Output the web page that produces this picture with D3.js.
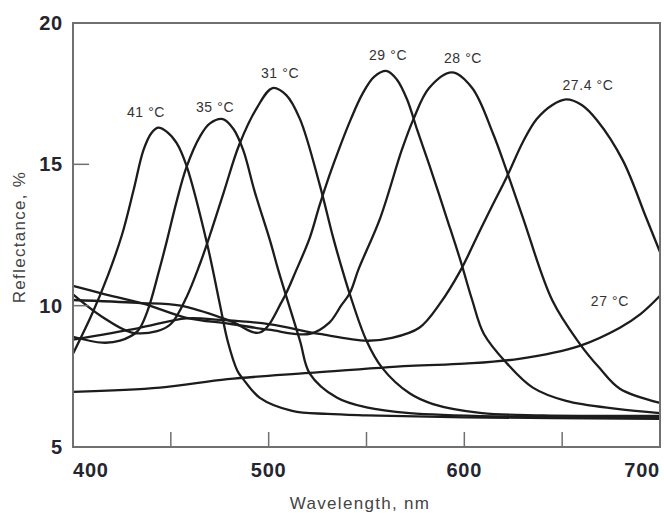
<!DOCTYPE html>
<html>
<head>
<meta charset="utf-8">
<script src="https://cdn.jsdelivr.net/npm/d3@7"></script>
<style>
  body { margin: 0; background: #fff; }
  svg { display: block; font-family: "Liberation Sans", Arial, sans-serif; }
  .curve { fill: none; stroke: #1c1c1c; stroke-width: 2.3; }
  .tick-label { font-size: 20px; font-weight: bold; fill: #25252e; letter-spacing: 0.8px; }
  .curve-label { font-size: 14px; fill: #333; letter-spacing: 0.6px; }
  .axis-title { font-size: 17px; fill: #444; letter-spacing: 1.3px; }
</style>
</head>
<body>
<div id="chart"></div>
<script>
// reflectance spectra, one pair of arrays per temperature
const wl41 = [400, 410, 418, 425, 431, 436, 440, 443.5, 448, 453, 458, 468.5, 475, 479, 484, 487, 495.5, 512, 530, 550, 600, 700];
const r41  = [8.3, 9.75, 11.1, 12.5, 14.1, 15.5, 16.1, 16.3, 16.15, 15.75, 14.95, 12.2, 10.07, 8.76, 7.7, 7.4, 6.74, 6.28, 6.17, 6.12, 6.05, 6.0];

const wl35 = [400, 415, 424, 433, 438, 444, 448, 453, 458, 465, 470, 476.6, 482, 487, 493, 500.7, 505, 516, 521, 535, 550, 572, 620, 700];
const r35  = [8.9, 8.69, 8.76, 9.1, 9.8, 11.24, 12.3, 13.7, 14.9, 16.0, 16.45, 16.6, 16.25, 15.5, 14.0, 12.3, 11.24, 8.76, 7.6, 6.74, 6.4, 6.2, 6.08, 6.05];

const wl31 = [400, 415, 430, 443, 450, 458, 465, 470, 477, 485, 494, 502, 509, 516, 526, 533, 537.5, 541.5, 550, 558, 572, 584, 609, 640, 700];
const r31  = [10.4, 9.6, 9.05, 9.1, 9.35, 10.3, 11.5, 12.5, 14.0, 15.7, 17.0, 17.7, 17.45, 16.6, 14.3, 12.4, 11.3, 10.4, 8.76, 7.8, 6.9, 6.52, 6.2, 6.12, 6.1];

const wl29 = [400, 433, 455, 480, 495.5, 507, 514, 521, 526, 531, 536, 542, 548, 554, 560.5, 565.5, 570.7, 576, 582, 591, 598, 604, 610, 622, 635, 652, 678, 700];
const r29  = [10.2, 10.1, 10.0, 9.47, 9.05, 10.18, 11.24, 12.4, 13.55, 14.6, 15.55, 16.6, 17.5, 18.1, 18.3, 18.0, 17.3, 16.2, 15.0, 13.1, 11.6, 10.2, 9.0, 7.94, 7.1, 6.63, 6.35, 6.2];

const wl28 = [400, 415, 436, 458, 480, 500, 521, 531, 537, 541.5, 546, 557, 568, 574, 582, 593.7, 604, 614.6, 622, 630, 645, 659, 669, 679.5, 700];
const r28  = [10.7, 10.43, 10.07, 9.57, 9.36, 9.15, 9.0, 9.4, 10.0, 10.45, 11.3, 13.1, 15.5, 16.6, 17.7, 18.25, 17.7, 16.1, 14.7, 13.1, 10.18, 8.65, 7.8, 7.06, 6.56];

const wl274 = [400, 433, 458, 475, 500, 526, 550, 563, 577, 587.5, 598, 608, 614, 622, 630, 637, 645, 652, 660, 667.8, 681, 693, 700];
const r274  = [8.8, 9.2, 9.55, 9.5, 9.35, 9.0, 8.76, 8.86, 9.22, 10.07, 11.24, 12.66, 13.5, 14.6, 15.8, 16.6, 17.1, 17.3, 17.1, 16.56, 15.14, 13.1, 11.9];

const wl27 = [400, 444.5, 479, 521, 572, 600, 628, 659, 679.5, 690, 700];
const r27  = [6.95, 7.1, 7.4, 7.62, 7.87, 7.95, 8.12, 8.58, 9.22, 9.7, 10.35];

const labels = ['41 °C', '35 °C', '31 °C', '29 °C', '28 °C', '27.4 °C', '27 °C'];
// where each curve label sits, in data units
const labelWl = [437.3, 472.6, 505.8, 561, 599.3, 663.2, 674.4];
const labelR  = [16.85, 17.03, 18.23, 18.87, 18.76, 17.8, 10.17];

const xTicks = [450, 500, 550, 600, 650];
const xTickLabels = [400, 500, 600, 700];
const yTicks = [10, 15];
const yTickLabels = [5, 10, 15, 20];

const series = [
  [wl41, r41], [wl35, r35], [wl31, r31], [wl29, r29],
  [wl28, r28], [wl274, r274], [wl27, r27],
].map(([wl, r]) => wl.map((w, i) => ({ wl: w, r: r[i] })));

const width = 664;
const height = 513;
const margin = { top: 23, right: 4, bottom: 66, left: 73 };

const xScale = d3.scaleLinear()
  .domain([400, 700])
  .range([margin.left, width - margin.right]);

const yScale = d3.scaleLinear()
  .domain([5, 20])
  .range([height - margin.bottom, margin.top]);

const line = d3.line()
  .x(d => xScale(d.wl))
  .y(d => yScale(d.r))
  .curve(d3.curveCatmullRom.alpha(0.5));

const svg = d3.select('#chart')
  .append('svg')
    .attr('width', width)
    .attr('height', height);

// curves
svg.append('g')
  .selectAll('path')
  .data(series)
  .enter().append('path')
    .attr('class', 'curve')
    .attr('d', line);

// frame
svg.append('rect')
  .attr('x', xScale(400))
  .attr('y', yScale(20))
  .attr('width', xScale(700) - xScale(400))
  .attr('height', yScale(5) - yScale(20))
  .attr('fill', 'none')
  .attr('stroke', '#707070')
  .attr('stroke-width', 2);

// inward ticks
svg.append('g')
  .selectAll('line')
  .data(xTicks)
  .enter().append('line')
    .attr('x1', d => xScale(d))
    .attr('x2', d => xScale(d))
    .attr('y1', yScale(5))
    .attr('y2', yScale(5) - 15)
    .attr('stroke', '#707070')
    .attr('stroke-width', 1.5);

svg.append('g')
  .selectAll('line')
  .data(yTicks)
  .enter().append('line')
    .attr('x1', xScale(400))
    .attr('x2', xScale(400) + 16)
    .attr('y1', d => yScale(d))
    .attr('y2', d => yScale(d))
    .attr('stroke', '#707070')
    .attr('stroke-width', 1.5);

// tick labels
svg.append('g')
  .selectAll('text')
  .data(xTickLabels)
  .enter().append('text')
    .attr('class', 'tick-label')
    .attr('x', d => xScale(d))
    .attr('y', yScale(5) + 30)
    .attr('text-anchor', (d, i) => i === 0 ? 'start' : (i === xTickLabels.length - 1 ? 'end' : 'middle'))
    .text(d => d);

svg.append('g')
  .selectAll('text')
  .data(yTickLabels)
  .enter().append('text')
    .attr('class', 'tick-label')
    .attr('x', xScale(400) - 10)
    .attr('y', d => yScale(d) + 7)
    .attr('text-anchor', 'end')
    .text(d => d);

// curve labels
svg.append('g')
  .selectAll('text')
  .data(labels)
  .enter().append('text')
    .attr('class', 'curve-label')
    .attr('x', (d, i) => xScale(labelWl[i]))
    .attr('y', (d, i) => yScale(labelR[i]))
    .attr('dy', '0.35em')
    .attr('text-anchor', 'middle')
    .text(d => d);

// axis titles
svg.append('text')
  .attr('class', 'axis-title')
  .attr('x', 360)
  .attr('y', 509)
  .attr('text-anchor', 'middle')
  .text('Wavelength, nm');

svg.append('text')
  .attr('class', 'axis-title')
  .attr('transform', `translate(25, 237) rotate(-90)`)
  .attr('text-anchor', 'middle')
  .text('Reflectance, %');
</script>
</body>
</html>
